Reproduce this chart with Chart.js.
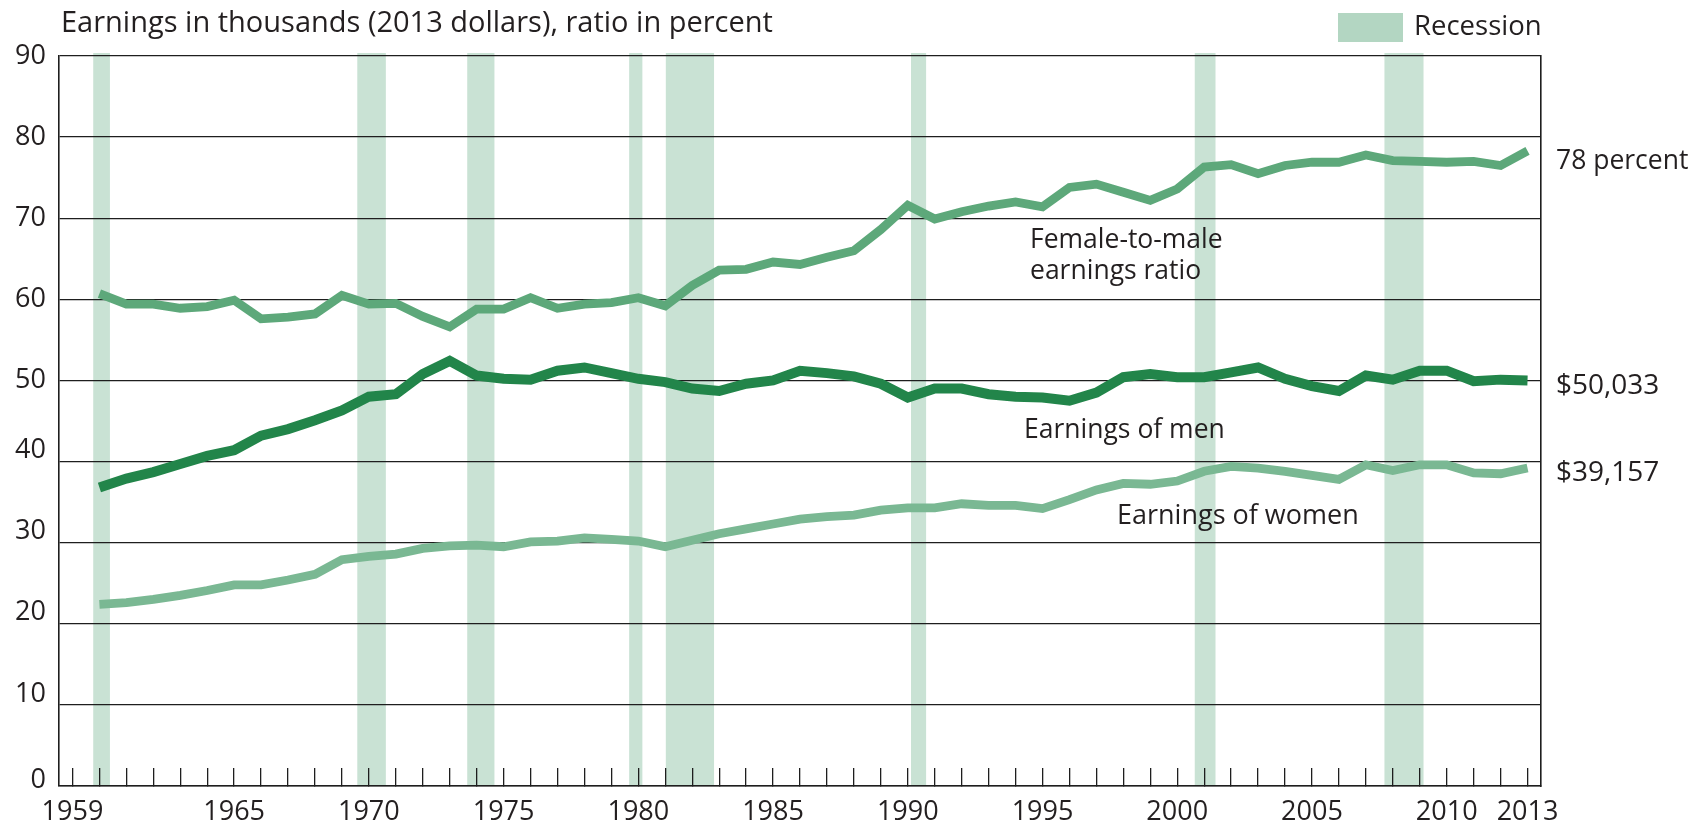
<!DOCTYPE html>
<html>
<head>
<meta charset="utf-8">
<script src="https://cdn.jsdelivr.net/npm/chart.js@4.4.0/dist/chart.umd.min.js"></script>
<style>
html,body{margin:0;padding:0;background:#ffffff;}
canvas{display:block;}
</style>
</head>
<body>
<canvas id="c" width="1696" height="827"></canvas>
<script>
// ---------- DATA ----------
const years = [1960,1961,1962,1963,1964,1965,1966,1967,1968,1969,
               1970,1971,1972,1973,1974,1975,1976,1977,1978,1979,
               1980,1981,1982,1983,1984,1985,1986,1987,1988,1989,
               1990,1991,1992,1993,1994,1995,1996,1997,1998,1999,
               2000,2001,2002,2003,2004,2005,2006,2007,2008,2009,
               2010,2011,2012,2013];

// Female-to-male earnings ratio (percent)
const earningsRatio = [60.7,59.4,59.4,58.9,59.1,59.9,57.6,57.8,58.2,60.5,
                       59.4,59.5,57.9,56.6,58.8,58.8,60.2,58.9,59.4,59.6,
                       60.2,59.2,61.7,63.6,63.7,64.6,64.3,65.2,66.0,68.6,
                       71.6,69.9,70.8,71.5,72.0,71.4,73.8,74.2,73.2,72.2,
                       73.6,76.3,76.6,75.5,76.5,76.9,76.9,77.8,77.1,77.0,
                       76.9,77.0,76.5,78.3];

// Earnings of men (thousands, 2013 dollars)
const menEarnings = [36.8,37.9,38.7,39.7,40.7,41.4,43.2,44.0,45.1,46.3,
                     48.0,48.3,50.8,52.4,50.6,50.2,50.1,51.2,51.6,50.9,
                     50.2,49.8,49.0,48.7,49.6,50.0,51.2,50.9,50.5,49.6,
                     47.9,49.0,49.0,48.3,48.0,47.9,47.5,48.5,50.4,50.8,
                     50.4,50.4,51.0,51.6,50.2,49.3,48.7,50.6,50.1,51.2,
                     51.2,49.9,50.1,50.0];

// Earnings of women (thousands, 2013 dollars)
const womenEarnings = [22.4,22.6,23.0,23.5,24.1,24.8,24.8,25.4,26.1,27.9,
                       28.3,28.6,29.3,29.6,29.7,29.5,30.1,30.2,30.6,30.4,
                       30.2,29.5,30.3,31.1,31.7,32.3,32.9,33.2,33.4,34.0,
                       34.3,34.3,34.8,34.6,34.6,34.2,35.3,36.5,37.3,37.2,
                       37.6,38.8,39.4,39.2,38.8,38.3,37.8,39.6,38.9,39.6,
                       39.6,38.6,38.5,39.2];

// Recession shading (start / end, in axis years)
const recessionStart = [1959.77, 1969.57, 1973.65, 1979.66, 1981.02, 1990.12, 2000.65, 2007.69];
const recessionEnd   = [1960.39, 1970.63, 1974.66, 1980.15, 1982.81, 1990.68, 2001.42, 2009.14];

// Tick labels
const xLabelYears = [1959,1965,1970,1975,1980,1985,1990,1995,2000,2005,2010,2013];
const yTickValues = [0,10,20,30,40,50,60,70,80,90];
const xFirstTick = 1959, xLastTick = 2013;

// ---------- STYLE ----------
const FONT = '"Open Sans"';
const TXT = '#231f20';
const GRID = '#1e1e1e';
const C_RATIO = '#5da87a';
const C_MEN = '#22854a';
const C_WOMEN = '#7ab893';
const C_BAND = '#c9e2d4';
const C_SWATCH = '#b3d6c2';

Chart.defaults.font.family = FONT;
Chart.defaults.color = TXT;

const toXY = vals => years.map((yr, i) => ({x: yr, y: vals[i]}));

const bandsPlugin = {
  id: 'recessionBands',
  beforeDraw(chart) {
    const {ctx, chartArea: a, scales: {x}} = chart;
    ctx.save();
    ctx.fillStyle = C_BAND;
    recessionStart.forEach((s, i) => {
      const x1 = x.getPixelForValue(s);
      const x2 = x.getPixelForValue(recessionEnd[i]);
      ctx.fillRect(x1, a.top - 3, x2 - x1, a.bottom - a.top + 3);
    });
    ctx.restore();
  }
};

const textPlugin = {
  id: 'annotations',
  afterDraw(chart) {
    const ctx = chart.ctx;
    ctx.save();
    ctx.textBaseline = 'alphabetic';
    ctx.textAlign = 'left';
    ctx.fillStyle = TXT;
    ctx.font = '29px ' + FONT;
    ctx.fillText('Earnings in thousands (2013 dollars), ratio in percent', 61, 32);
    // legend
    ctx.fillStyle = C_SWATCH;
    ctx.fillRect(1338, 13, 65, 29);
    ctx.fillStyle = TXT;
    ctx.font = '27.5px ' + FONT;
    ctx.fillText('Recession', 1414, 35);
    // end labels
    ctx.font = '26.5px ' + FONT;
    ctx.fillText('78 percent', 1556, 169);
    ctx.font = '28px ' + FONT;
    ctx.fillText('$50,033', 1556, 394);
    ctx.fillText('$39,157', 1556, 481);
    // series labels
    ctx.font = '26.5px ' + FONT;
    ctx.fillText('Female-to-male', 1030, 248);
    ctx.fillText('earnings ratio', 1030, 279);
    ctx.fillText('Earnings of men', 1024, 438);
    ctx.font = '27px ' + FONT;
    ctx.fillText('Earnings of women', 1117, 524);
    ctx.restore();
  }
};

const lineDs = (label, vals, color, width) => ({
  label, data: toXY(vals), borderColor: color, backgroundColor: color,
  borderWidth: width, pointRadius: 0, pointHoverRadius: 0, tension: 0,
  borderCapStyle: 'butt', borderJoinStyle: 'miter', fill: false
});

new Chart(document.getElementById('c'), {
  type: 'line',
  data: {
    datasets: [
      lineDs('Female-to-male earnings ratio', earningsRatio, C_RATIO, 8.8),
      lineDs('Earnings of men', menEarnings, C_MEN, 10),
      lineDs('Earnings of women', womenEarnings, C_WOMEN, 8.8)
    ]
  },
  options: {
    responsive: false,
    animation: false,
    events: [],
    layout: {padding: {top: 56, right: 155, bottom: 0, left: 0}},
    plugins: {legend: {display: false}, tooltip: {enabled: false}, title: {display: false}},
    scales: {
      x: {
        type: 'linear',
        position: 'bottom',
        min: xFirstTick - 0.5,
        max: xLastTick + 0.5,
        afterBuildTicks: s => {
          const t = [];
          for (let v = xFirstTick; v <= xLastTick; v++) t.push({value: v});
          s.ticks = t;
        },
        afterFit: s => { s.height = 41; },
        grid: {drawOnChartArea: false, drawTicks: true, tickLength: -18, color: GRID, lineWidth: 1.3},
        border: {display: true, color: GRID, width: 1.6},
        ticks: {
          autoSkip: false, maxRotation: 0, minRotation: 0, padding: 28, color: TXT,
          font: {size: 27, lineHeight: 1.2},
          callback: v => xLabelYears.includes(v) ? String(v) : ''
        }
      },
      y: {
        position: 'left',
        min: 0, max: 90,
        afterBuildTicks: s => { s.ticks = yTickValues.map(v => ({value: v})); },
        afterFit: s => { s.width = 59; },
        grid: {color: GRID, lineWidth: 1.3, drawTicks: false},
        border: {display: true, color: GRID, width: 1.6},
        ticks: {
          padding: 13, color: TXT,
          font: c => ({size: 27, lineHeight: (c.tick && c.tick.value === 0) ? 0.45 : ((c.tick && c.tick.value <= 40) ? 0.82 : 1.2)}),
          callback: v => v <= 40 ? [String(v), ''] : String(v)
        }
      },
      yRight: {
        position: 'right',
        min: 0, max: 90,
        afterFit: s => { s.width = 0; },
        ticks: {display: false},
        grid: {drawOnChartArea: false, drawTicks: false},
        border: {display: true, color: GRID, width: 1.6}
      }
    }
  },
  plugins: [bandsPlugin, textPlugin]
});
</script>
</body>
</html>
